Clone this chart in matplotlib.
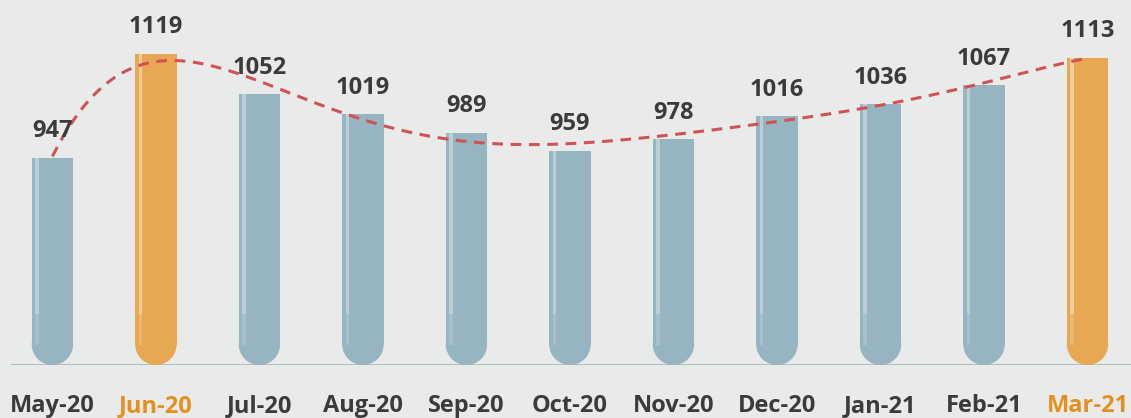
import matplotlib
matplotlib.use("Agg")
import matplotlib.pyplot as plt
from matplotlib.patches import Ellipse
import numpy as np

# data
months = ['May-20', 'Jun-20', 'Jul-20', 'Aug-20', 'Sep-20', 'Oct-20',
          'Nov-20', 'Dec-20', 'Jan-21', 'Feb-21', 'Mar-21']
values = [947, 1119, 1052, 1019, 989, 959, 978, 1016, 1036, 1067, 1113]
highlight = ['Jun-20', 'Mar-21']

bg = '#e9ebea'
blue = '#97b5c0'
blue_hi = '#c3d5dc'
orange = '#e8a752'
orange_hi = '#f6d7ab'
orange_txt = '#e4901f'
dark = '#3b3b3b'

ymin, ymax = 605, 1208
bw = 0.40
ry = 20.5 * (ymax - ymin) / 365.0  # radius of the rounded bottom in data units

plt.rcParams['font.family'] = ['Open Sans', 'DejaVu Sans']

fig = plt.figure(figsize=(11.31, 4.18), dpi=100)
fig.patch.set_facecolor(bg)
ax = fig.add_axes([11 / 1131, 53 / 418, 1 - 11 / 1131, 1 - 53 / 418])
ax.set_facecolor(bg)

x = np.arange(len(values))
for i, (m, v) in enumerate(zip(months, values)):
    c = orange if m in highlight else blue
    hc = orange_hi if m in highlight else blue_hi
    ax.bar(i, v - (ymin + ry), bottom=ymin + ry, width=bw, color=c,
           linewidth=0, zorder=2)
    ax.add_patch(Ellipse((i, ymin + ry), bw, 2 * ry, facecolor=c,
                         linewidth=0, zorder=2))
    # light stripe on the left side of the tube, fading toward the bottom
    ax.bar(i - bw / 2 + 0.05, v - (ymin + 2.5 * ry), bottom=ymin + 2.5 * ry,
           width=0.035, color=hc, alpha=0.8, zorder=3, linewidth=0)
    ax.bar(i - bw / 2 + 0.05, 1.5 * ry, bottom=ymin + ry,
           width=0.035, color=hc, alpha=0.35, zorder=3, linewidth=0)
    ax.text(i, v + 24, str(v), ha='center', va='bottom', fontsize=17,
            fontweight='bold', color=dark, zorder=5)

# smoothed trend line
coef = np.polyfit(x, values, 6)
xs = np.linspace(0, len(values) - 1, 300)
ax.plot(xs, np.polyval(coef, xs), color='#d05353', lw=2.2,
        dashes=(3.5, 2.5), zorder=4)

ax.axhline(ymin, color='#b3bfbb', lw=1.5, zorder=1)

ax.set_xlim(-0.4, 10.42)
ax.set_ylim(ymin, ymax)
for s in ax.spines.values():
    s.set_visible(False)
ax.set_yticks([])
ax.set_xticks(x)
ax.set_xticklabels(months, fontsize=17, fontweight='bold')
ax.tick_params(axis='x', length=0, pad=21)
for lbl in ax.get_xticklabels():
    lbl.set_color(orange_txt if lbl.get_text() in highlight else dark)

plt.savefig('out.png', dpi=100, facecolor=bg)
